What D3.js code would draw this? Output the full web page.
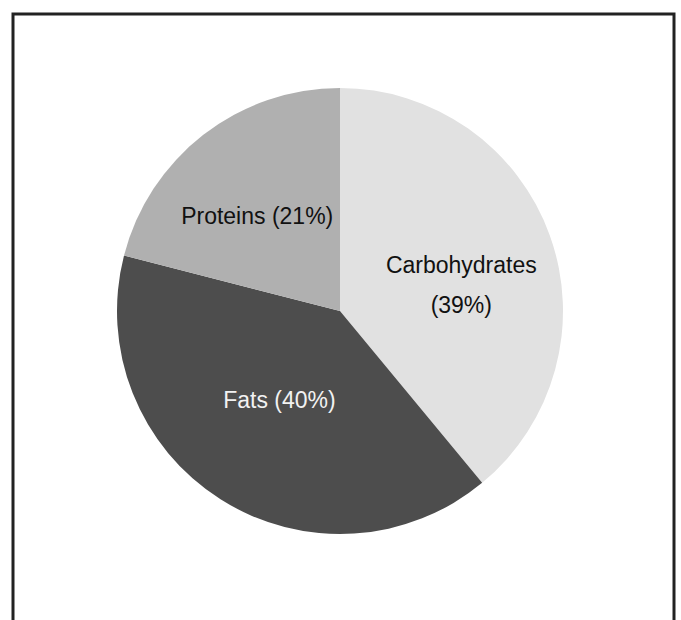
<!DOCTYPE html>
<html>
<head>
<meta charset="utf-8">
<script src="https://cdn.jsdelivr.net/npm/d3@7"></script>
<style>
  html, body { margin: 0; padding: 0; background: #fff; }
  svg { display: block; }
</style>
</head>
<body>
<svg id="chart" width="681" height="620"></svg>
<script>
// Macronutrient split
const categories = ["Carbohydrates", "Fats", "Proteins"];
const values = [39, 40, 21];
const labelLines = [["Carbohydrates", "(39%)"], ["Fats (40%)"], ["Proteins (21%)"]];
const sliceColors = ["#e1e1e1", "#4d4d4d", "#b0b0b0"];
const textColors = ["#111", "#f2f2f2", "#111"];

const width = 681, height = 620;
const cx = 340, cy = 311, radius = 223;

// small hand nudges so each label sits comfortably inside its slice
const labelNudge = {
  Carbohydrates: [8, 15],
  Fats: [4, -13],
  Proteins: [-9, 0]
};

const svg = d3.select("#chart");

// frame (open at the bottom, runs past the page edge)
svg.append("rect")
  .attr("x", 13).attr("y", 14)
  .attr("width", 661).attr("height", 640)
  .attr("fill", "none")
  .attr("stroke", "#222")
  .attr("stroke-width", 3);

const data = categories.map((c, i) => ({ name: c, value: values[i], i }));

const pie = d3.pie().value(d => d.value).sort(null);
const arc = d3.arc().innerRadius(0).outerRadius(radius);
const labelArc = d3.arc().innerRadius(0).outerRadius(radius * 1.08);

const g = svg.append("g").attr("transform", `translate(${cx},${cy})`);
const arcs = pie(data);

g.selectAll("path.slice")
  .data(arcs)
  .join("path")
  .attr("class", "slice")
  .attr("d", arc)
  .attr("fill", d => sliceColors[d.data.i]);

const lineH = 40;
const labels = g.selectAll("text.lbl")
  .data(arcs)
  .join("text")
  .attr("class", "lbl")
  .attr("transform", d => {
    const [x, y] = labelArc.centroid(d);
    const [nx, ny] = labelNudge[d.data.name];
    return `translate(${x + nx},${y + ny})`;
  })
  .attr("text-anchor", "middle")
  .attr("font-family", "'Liberation Sans', Arial, sans-serif")
  .attr("font-size", 23)
  .attr("fill", d => textColors[d.data.i]);

labels.each(function(d) {
  const lines = labelLines[d.data.i];
  const n = lines.length;
  d3.select(this).selectAll("tspan")
    .data(lines)
    .join("tspan")
    .attr("x", 0)
    .attr("y", (t, k) => (k - (n - 1) / 2) * lineH + 8)
    .text(t => t);
});
</script>
</body>
</html>
